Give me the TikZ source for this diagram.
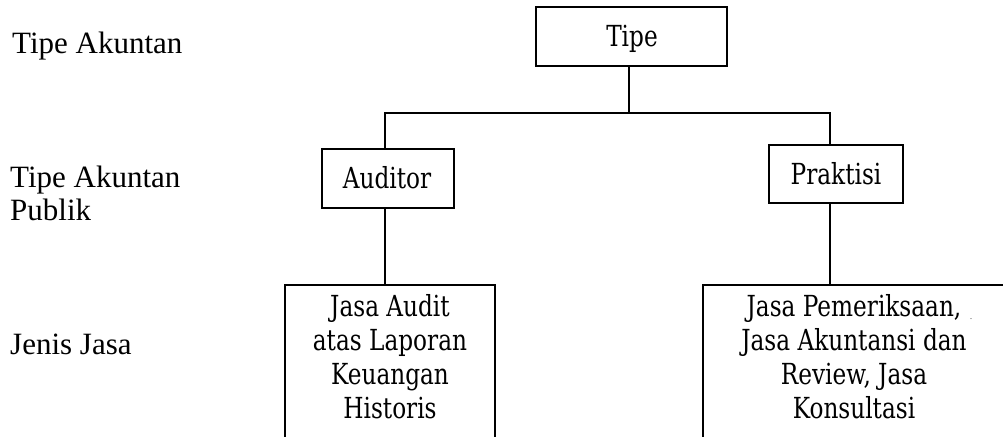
\documentclass[tikz,border=0pt]{standalone}
\usepackage{fontspec}
\setmainfont{Liberation Serif}
\newfontfamily\boxfont[FakeStretch=0.8]{DejaVu Serif}
\begin{document}
\begin{tikzpicture}[x=1pt,y=-1pt,
  lbl/.style={inner sep=0pt,anchor=base west,align=left,font=\fontsize{31}{32.5}\selectfont},
  boxtxt/.style={font=\boxfont\fontsize{29}{33.7}\selectfont},
  bx/.style={draw,line width=1.6pt,inner sep=0pt,rectangle},
  openbx/.style={draw=none,inner sep=0pt,rectangle},
  conn/.style={line width=1.6pt},
  txt/.style={inner sep=0pt,anchor=base,align=center}]
\useasboundingbox (0,0) rectangle (1003,436);
\clip (0,0) rectangle (1003,436);
% left labels
\node[lbl] (l1) at (12,53) {Tipe Akuntan};
\node[lbl] (l2) at (10,220) {Tipe Akuntan\\Publik};
\node[lbl] (l3) at (10,354) {Jenis Jasa};
% boxes
\node[bx,minimum width=191pt,minimum height=59pt] (tipe) at (631.5,36.5) {};
\node[txt,boxtxt] (tipet) at (632,47) {Tipe};
\node[bx,minimum width=132pt,minimum height=59pt] (aud) at (388,178.5) {};
\node[txt,boxtxt] (audt) at (387,188) {Auditor};
\node[bx,minimum width=134pt,minimum height=58pt] (prak) at (836,174) {};
\node[txt,boxtxt] (prakt) at (836,184) {Praktisi};
% lower open boxes
\node[openbx,minimum width=210pt,minimum height=200pt] (ja) at (390,385) {};
\node[openbx,minimum width=300pt,minimum height=200pt] (jp) at (853,385) {};
\draw[conn] (ja.south west) -- (ja.north west) -- (ja.north east) -- (ja.south east);
\draw[conn] (jp.south west) -- (jp.north west) -- (jp.north east);
\node[txt,boxtxt] (jat) at (390,418) {Jasa Audit\\atas Laporan\\Keuangan\\Historis};
\node[txt,boxtxt] (jpt) at (854,418) {Jasa Pemeriksaan,\\Jasa Akuntansi dan\\Review, Jasa\\Konsultasi};
\node[inner sep=0pt,font=\fontsize{10}{10}\selectfont,text=black!60] (dot) at (971,319) {.};
% connectors
\coordinate (hl) at (385,113);
\coordinate (hr) at (830,113);
\coordinate (hm) at (629,113);
\draw[conn] (tipe.south -| hm) -- (hm);
\draw[conn] (aud.north -| hl) -- (hl) -- (hr) -- (prak.north -| hr);
\draw[conn] (aud.south -| hl) -- (ja.north -| hl);
\draw[conn] (prak.south -| hr) -- (jp.north -| hr);
\end{tikzpicture}
\end{document}
